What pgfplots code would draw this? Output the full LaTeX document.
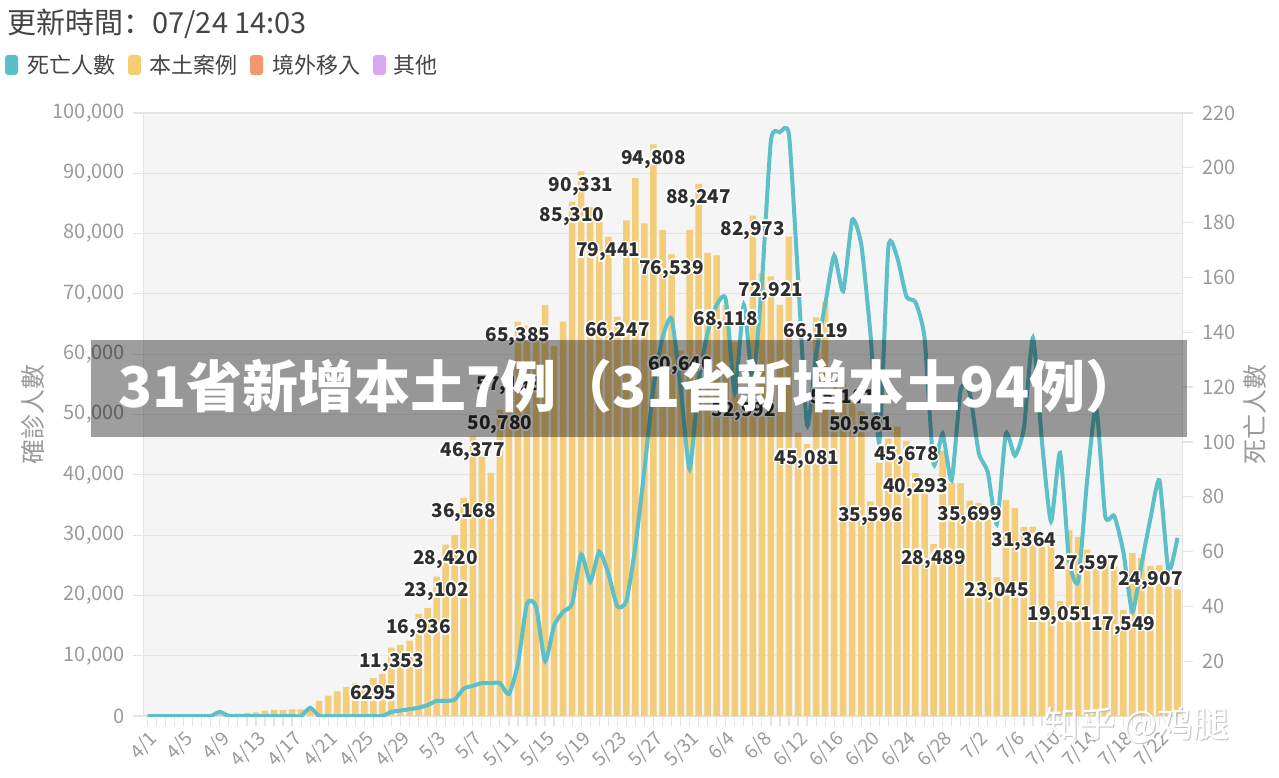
\documentclass[border=0pt]{standalone}
\usepackage{pgfplots}
\pgfplotsset{compat=1.18}
\usepackage{pgfplotstable}
\usepackage{fontspec}
\setmainfont{Noto Sans CJK TC}
\newfontfamily\scfont{Noto Sans CJK SC}
\definecolor{baryel}{HTML}{F3CD7A}
\definecolor{deathc}{HTML}{5DBFC7}
\definecolor{plotbg}{HTML}{F5F5F5}
\definecolor{gridc}{HTML}{E4E4E4}
\definecolor{tickc}{HTML}{9A9A9A}
\definecolor{titlec}{HTML}{444444}
\definecolor{labc}{HTML}{2E2E2E}
\definecolor{legteal}{HTML}{5BC0C8}
\definecolor{legyel}{HTML}{F5CF6F}
\definecolor{legora}{HTML}{F4976C}
\definecolor{legpur}{HTML}{D8A8F0}
\pgfplotsset{/pgf/number format/assume math mode=true,/pgf/number format/1000 sep={,},/pgf/number format/fixed,/pgf/number format/precision=0}
\newcommand{\hh}[3]{\makebox[0pt][l]{\kern#1\raisebox{#2}{\textcolor{white}{#3}}}}
\newcommand{\halo}[1]{\hh{0.8pt}{0pt}{#1}\hh{-0.8pt}{0pt}{#1}\hh{0pt}{0.8pt}{#1}\hh{0pt}{-0.8pt}{#1}\hh{0.6pt}{0.6pt}{#1}\hh{-0.6pt}{0.6pt}{#1}\hh{0.6pt}{-0.6pt}{#1}\hh{-0.6pt}{-0.6pt}{#1}\textcolor{labc}{#1}}

\pgfplotstableread{
c v lab
25 6295 6295
27 11353 11,353
30 16936 16,936
32 23102 23,102
33 28420 28,420
35 36168 36,168
36 46377 46,377
39 50780 50,780
40 57198 57,198
41 65385 65,385
47 85310 85,310
48 90331 90,331
51 79441 79,441
52 66247 66,247
56 94808 94,808
58 76539 76,539
59 60640 60,640
61 88247 88,247
64 68118 68,118
66 52992 52,992
67 82973 82,973
69 72921 72,921
73 45081 45,081
74 66119 66,119
77 55181 55,181
79 50561 50,561
80 35596 35,596
84 45678 45,678
85 40293 40,293
87 28489 28,489
91 35699 35,699
94 23045 23,045
97 31364 31,364
101 19051 19,051
104 27597 27,597
108 17549 17,549
111 24907 24,907
}\labdata

\begin{document}
\begin{tikzpicture}[x=1pt,y=1pt]
\useasboundingbox (0,0) rectangle (639.5,388.5);
\begin{axis}[at={(71.5pt,30.5pt)}, anchor=south west, scale only axis,
  width=519.5pt, height=301.5pt,
  xmin=-0.5, xmax=114.5, ymin=0, ymax=100000,
  axis background/.style={fill=plotbg},
  axis line style={draw=gridc},
  ytick={0,10000,20000,30000,40000,50000,60000,70000,80000,90000,100000},
  yticklabels={0,{10,000},{20,000},{30,000},{40,000},{50,000},{60,000},{70,000},{80,000},{90,000},{100,000}},
  scaled y ticks=false,
  ymajorgrids, grid style={draw=gridc, line width=0.6pt},
  tick align=outside, major tick length=5pt, minor tick length=5pt,
  tick style={draw=gridc, line width=0.6pt},
  ytick pos=left,
  xtick pos=bottom,
  yticklabel style={font=\fontsize{10}{12}\selectfont, text=tickc, xshift=-0.5pt},
  xtick={0,4,...,112},
  xticklabels={4/1,4/5,4/9,4/13,4/17,4/21,4/25,4/29,5/3,5/7,5/11,5/15,5/19,5/23,5/27,5/31,6/4,6/8,6/12,6/16,6/20,6/24,6/28,7/2,7/6,7/10,7/14,7/18,7/22},
  minor xtick={0,1,...,114},
  xticklabel style={font=\fontsize{9.5}{11}\selectfont, text=tickc, rotate=45, anchor=north east, inner sep=1pt},
]
\addplot[ybar, bar width=0.72, fill=baryel, draw=none] coordinates {
(0,50)(1,100)(2,100)(3,100)(4,100)(5,150)(6,200)(7,200)(8,250)(9,300)
(10,400)(11,500)(12,600)(13,900)(14,1000)(15,1000)(16,1100)(17,1100)(18,1500)(19,2500)
(20,3400)(21,4100)(22,4800)(23,5400)(24,5200)(25,6295)(26,7000)(27,11353)(28,11800)(29,12500)
(30,16936)(31,17900)(32,23102)(33,28420)(34,30000)(35,36168)(36,46377)(37,43000)(38,40300)(39,50780)
(40,57198)(41,65385)(42,64700)(43,64000)(44,68200)(45,61400)(46,65400)(47,85310)(48,90331)(49,84400)
(50,82000)(51,79441)(52,66247)(53,82200)(54,89200)(55,81700)(56,94808)(57,80600)(58,76539)(59,60640)
(60,80600)(61,88247)(62,76800)(63,76400)(64,68118)(65,62000)(66,52992)(67,82973)(68,73500)(69,72921)
(70,68200)(71,79500)(72,47000)(73,45081)(74,66119)(75,68700)(76,56000)(77,55181)(78,52500)(79,50561)
(80,35596)(81,42000)(82,46000)(83,48000)(84,45678)(85,40293)(86,37000)(87,28489)(88,44000)(89,38600)
(90,38600)(91,35699)(92,35300)(93,34000)(94,23045)(95,35800)(96,34500)(97,31364)(98,31400)(99,28000)
(100,29000)(101,19051)(102,30800)(103,29700)(104,27597)(105,26400)(106,26000)(107,24800)(108,17549)(109,27000)
(110,26200)(111,24907)(112,25000)(113,21400)(114,21000)
};
\end{axis}
\begin{axis}[at={(71.5pt,30.5pt)}, anchor=south west, scale only axis,
  width=519.5pt, height=301.5pt,
  xmin=-0.5, xmax=114.5, ymin=0, ymax=220,
  axis x line=none, axis y line*=right, axis line style={draw=gridc},
  ytick={20,40,60,80,100,120,140,160,180,200,220},
  yticklabels={20,40,60,80,100,120,140,160,180,200,220},
  tick align=outside, major tick length=5.5pt,
  tick style={draw=gridc, line width=0.6pt},
  yticklabel style={font=\fontsize{10}{12}\selectfont, text=tickc, xshift=1pt},
]
\addplot[deathc, line width=2pt, smooth, tension=0.35, mark=none] coordinates {
(0,0)(1,0)(2,0)(3,0)(4,0)(5,0)(6,0)(7,0)(8,1.5)(9,0)(10,0)(11,0)(12,0)(13,0)(14,0)(15,0)(16,0)(17,0)(18,3)(19,0)(20,0)(21,0)(22,0)(23,0)(24,0)(25,0)(26,0)(27,1.5)(28,2)(29,2.5)(30,3)(31,4)(32,5.5)(33,5.5)(34,6)(35,10)(36,11)(37,12)(38,12)(39,12)(40,8)(41,19)(42,41)(43,40)(44,20)(45,33)(46,38)(47,41)(48,59)(49,49)(50,60)(51,52)(52,40)(53,42)(54,62)(55,90)(56,120)(57,138)(58,145)(59,120)(60,90)(61,122)(62,140)(63,150)(64,152)(65,118)(66,150)(67,122)(68,158)(69,210)(70,213)(71,212)(72,160)(73,106)(74,132)(75,150)(76,168)(77,155)(78,181)(79,172)(80,140)(81,100)(82,171)(83,167)(84,153)(85,151)(86,138)(87,92)(88,103)(89,86)(90,119)(91,118)(92,96)(93,89)(94,70)(95,103)(96,95)(97,105)(98,138)(99,100)(100,71)(101,96)(102,57)(103,49)(104,86)(105,113)(106,73)(107,73)(108,60)(109,38)(110,55)(111,72)(112,86)(113,53)(114,65)
};
\end{axis}
\begin{axis}[at={(71.5pt,30.5pt)}, anchor=south west, scale only axis,
  width=519.5pt, height=301.5pt,
  xmin=-0.5, xmax=114.5, ymin=0, ymax=100000, hide axis, clip=false]
\addplot[draw=none, mark=none, nodes near coords={\halo{\pgfplotspointmeta}}, point meta=explicit symbolic,
  every node near coord/.style={font=\bfseries\fontsize{9.5}{11}\selectfont, anchor=center, yshift=-7.5pt, inner sep=0pt}]
  table[x=c, y=v, meta=lab]{\labdata};
\end{axis}
% axis titles
\node[rotate=90, inner sep=0pt, text=tickc, font=\fontsize{12.5}{14}\selectfont] at (16.5,181) {確診人數};
\node[rotate=90, inner sep=0pt, text=tickc, font=\fontsize{12.5}{14}\selectfont] at (627.5,181) {死亡人數};
% banner
\fill[black, opacity=0.38] (45.5,170) rectangle (593.5,218.5);
\node[anchor=west, text=white, font=\scfont\bfseries\fontsize{28}{30}\selectfont, inner sep=0pt] at (59,195.5) {31省新增本土7例（31省新增本土94例）};
% title and legend
\node[anchor=west, inner sep=0pt, text=titlec, font=\fontsize{14.5}{16}\selectfont] at (3.5,376.5) {更新時間{\scfont ：}07/24 14:03};
\fill[legteal, rounded corners=1.5pt] (2.5,351) rectangle (9,361);
\node[anchor=west, inner sep=0pt, text=titlec, font=\fontsize{11}{13}\selectfont] at (13.5,356) {死亡人數};
\fill[legyel, rounded corners=1.5pt] (64,351) rectangle (70.5,361);
\node[anchor=west, inner sep=0pt, text=titlec, font=\fontsize{11}{13}\selectfont] at (74.5,356) {本土案例};
\fill[legora, rounded corners=1.5pt] (125,351) rectangle (131.5,361);
\node[anchor=west, inner sep=0pt, text=titlec, font=\fontsize{11}{13}\selectfont] at (136,356) {境外移入};
\fill[legpur, rounded corners=1.5pt] (186.5,351) rectangle (193,361);
\node[anchor=west, inner sep=0pt, text=titlec, font=\fontsize{11}{13}\selectfont] at (196.5,356) {其他};
% watermark
\node[anchor=west, inner sep=0pt, text=gray!70, opacity=0.7, font=\scfont\fontsize{18}{20}\selectfont] at (522.2,25.3) {知乎 @鸡腿};
\node[anchor=west, inner sep=0pt, text=white, font=\scfont\fontsize{18}{20}\selectfont] at (521.5,26) {知乎 @鸡腿};
\end{tikzpicture}
\end{document}
